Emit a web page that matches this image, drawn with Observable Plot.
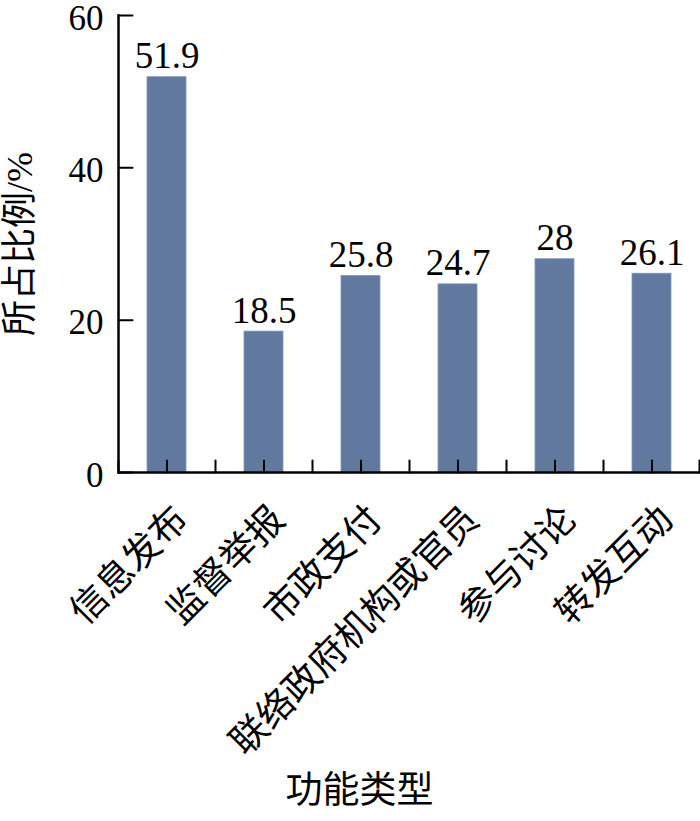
<!DOCTYPE html>
<html><head><meta charset="utf-8">
<script src="https://cdn.jsdelivr.net/npm/d3@7"></script>
<script src="https://cdn.jsdelivr.net/npm/@observablehq/plot@0.6"></script>
<style>html,body{margin:0;padding:0;background:#fff} svg{display:block}</style>
</head><body><div id="chart"></div>
<script>
const categories = ["信息发布","监督举报","市政支付","联络政府机构或官员","参与讨论","转发互动"];
const values = [51.9, 18.5, 25.8, 24.7, 28, 26.1];
const yTicks = [0, 20, 40, 60];
const yLabel = "所占比例/%";
const xLabel = "功能类型";

const data = categories.map((c, i) => ({category: c, value: values[i]}));
const serif = "'Liberation Serif','Times New Roman','Noto Sans CJK SC',serif";
const cjk = "'Liberation Serif','Noto Sans CJK SC',sans-serif";
const tickShape = {draw(ctx, l) { ctx.moveTo(0, 0); ctx.lineTo(0, -l); }};
const barColor = "#61789f";
const half = 48.5;

const chart = Plot.plot({
  width: 700,
  height: 821,
  marginLeft: 118,
  marginRight: 0,
  marginTop: 15,
  marginBottom: 349,
  style: {background: "#fff", color: "#000"},
  x: {domain: categories, paddingInner: 0.6, paddingOuter: 0.3, axis: null},
  y: {domain: [0, 60], axis: null},
  marks: [
    Plot.barY(data, {x: "category", y: "value", fill: barColor, stroke: "#8596b8", strokeWidth: 0.8}),
    Plot.text(data, {x: "category", y: "value", text: d => String(d.value), dy: -9, lineAnchor: "bottom", fontSize: 37, fontFamily: serif, fill: "#000"}),
    Plot.axisY(yTicks, {tickSize: 0, tickPadding: 15, dy: 3, fontSize: 35, fontFamily: serif, label: null, fill: "#000"}),
    Plot.vector(yTicks, {y: d => d, frameAnchor: "left", length: 14, rotate: 90, anchor: "start", shape: tickShape, stroke: "#000", strokeWidth: 2}),
    Plot.vector(categories, {x: d => d, frameAnchor: "bottom", length: 12, rotate: 0, anchor: "start", shape: tickShape, stroke: "#000", strokeWidth: 2}),
    Plot.vector(categories, {x: d => d, frameAnchor: "bottom", dx: -half, length: 12, rotate: 0, anchor: "start", shape: tickShape, stroke: "#000", strokeWidth: 2}),
    Plot.vector(categories.slice(-1), {x: d => d, frameAnchor: "bottom", dx: half - 1, length: 12, rotate: 0, anchor: "start", shape: tickShape, stroke: "#000", strokeWidth: 2}),
    Plot.ruleY([0], {stroke: "#000", strokeWidth: 2.5}),
    Plot.frame({anchor: "left", stroke: "#000", strokeWidth: 2.5}),
    Plot.text(categories, {x: d => d, frameAnchor: "bottom", text: d => d, rotate: -45, textAnchor: "end", lineAnchor: "bottom", dx: 23, dy: 49, fontSize: 37, fontFamily: cjk, fill: "#000"}),
    Plot.text([yLabel], {frameAnchor: "left", text: d => d, rotate: -90, textAnchor: "middle", dx: -98, fontSize: 36, fontFamily: cjk, fill: "#000"}),
    Plot.text([xLabel], {frameAnchor: "bottom", text: d => d, textAnchor: "middle", dx: -50, dy: 330, fontSize: 37, fontFamily: cjk, fill: "#000"})
  ]
});
document.getElementById("chart").appendChild(chart);
</script>
</body></html>
